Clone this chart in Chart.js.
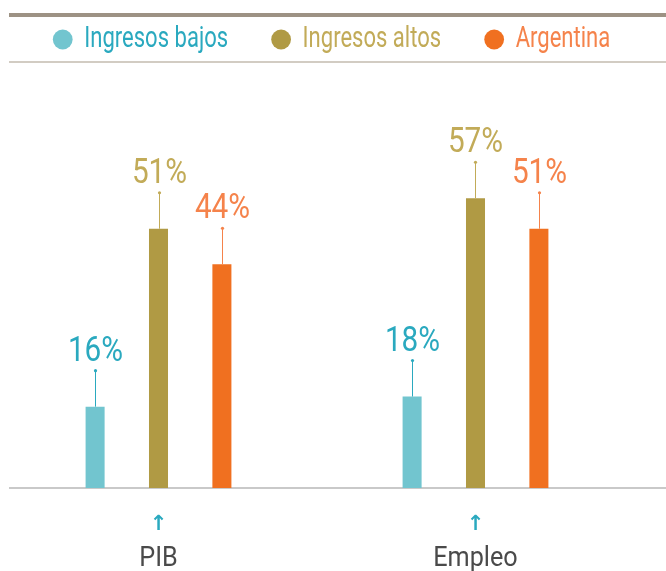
<!DOCTYPE html>
<html><head><meta charset="utf-8">
<script src="https://cdn.jsdelivr.net/npm/chart.js@4/dist/chart.umd.min.js"></script>
<style>html,body{margin:0;padding:0;background:#fff}#wrap{width:666px;height:571px;position:relative}</style>
</head><body><div id="wrap"><canvas id="c"></canvas></div>
<script>
const categories = ['PIB', 'Empleo'];
const seriesNames = ['Ingresos bajos', 'Ingresos altos', 'Argentina'];
const ingresosBajos = [16, 18];
const ingresosAltos = [51, 57];
const argentina = [44, 51];
const yMax = 84;

const barColors = ['#72c5cf', '#b09a44', '#f07020'];
const textColors = ['#2aa9bf', '#c2ab58', '#f5834b'];
const FONT = "Roboto, sans-serif";

// condensed rendering of Roboto text (reference uses a condensed face)
const condense = { 29: 0.76, 28: 0.9, 35: 0.85 };
function factorOf(ctx) {
  const m = /(\d+(?:\.\d+)?)px\s+Roboto/.exec(ctx.font);
  if (!m) return 1;
  return condense[Math.round(parseFloat(m[1]))] || 1;
}
const P = CanvasRenderingContext2D.prototype;
const origFill = P.fillText, origMeasure = P.measureText;
P.fillText = function (t, x, y, maxW) {
  const f = factorOf(this);
  if (f === 1) return origFill.apply(this, arguments);
  this.save();
  this.translate(x, y);
  this.scale(f, 1);
  if (maxW !== undefined) origFill.call(this, t, 0, 0, maxW / f);
  else origFill.call(this, t, 0, 0);
  this.restore();
};
P.measureText = function (t) {
  const m = origMeasure.call(this, t);
  const f = factorOf(this);
  if (f === 1) return m;
  return {
    width: m.width * f,
    actualBoundingBoxAscent: m.actualBoundingBoxAscent,
    actualBoundingBoxDescent: m.actualBoundingBoxDescent,
    actualBoundingBoxLeft: m.actualBoundingBoxLeft * f,
    actualBoundingBoxRight: m.actualBoundingBoxRight * f
  };
};

const decor = {
  id: 'decor',
  beforeDraw(chart) {
    const ctx = chart.ctx;
    ctx.save();
    ctx.fillStyle = '#9d9284';
    ctx.fillRect(9, 13, 657, 4);
    ctx.fillStyle = '#d2ccc3';
    ctx.fillRect(9, 61, 657, 2);
    ctx.restore();
  },
  beforeDatasetsDraw(chart) {
    const ctx = chart.ctx;
    const y0 = chart.scales.y.getPixelForValue(0);
    ctx.save();
    ctx.fillStyle = '#c9c9c9';
    ctx.fillRect(9, Math.round(y0) - 1, 657, 2);
    ctx.restore();
  },
  afterDatasetsDraw(chart) {
    const ctx = chart.ctx;
    ctx.save();
    chart.data.datasets.forEach((ds, i) => {
      const meta = chart.getDatasetMeta(i);
      meta.data.forEach((bar, j) => {
        const x = Math.round(bar.x) + 0.5;
        const top = bar.y;
        const lt = top - 36;
        ctx.strokeStyle = textColors[i];
        ctx.lineWidth = 1;
        ctx.beginPath();
        ctx.moveTo(x, top);
        ctx.lineTo(x, lt);
        ctx.stroke();
        ctx.fillStyle = textColors[i];
        ctx.beginPath();
        ctx.arc(x, lt, 1.6, 0, Math.PI * 2);
        ctx.fill();
        ctx.font = '35px ' + FONT;
        ctx.textAlign = 'center';
        ctx.textBaseline = 'alphabetic';
        ctx.fillText(ds.data[j] + '%', x, lt - 10);
      });
    });
    ctx.restore();
  }
};

new Chart(document.getElementById('c'), {
  type: 'bar',
  data: {
    labels: categories,
    datasets: [
      { label: seriesNames[0], data: ingresosBajos, backgroundColor: barColors[0] },
      { label: seriesNames[1], data: ingresosAltos, backgroundColor: barColors[1] },
      { label: seriesNames[2], data: argentina, backgroundColor: barColors[2] }
    ]
  },
  options: {
    responsive: true,
    maintainAspectRatio: false,
    animation: false,
    events: [],
    categoryPercentage: 0.6,
    barPercentage: 0.3,
    layout: { padding: { top: -21, left: 0, right: 0, bottom: 0 } },
    plugins: {
      tooltip: { enabled: false },
      legend: {
        position: 'top',
        maxHeight: 82,
        labels: {
          usePointStyle: true,
          boxWidth: 14,
          boxHeight: 14,
          padding: 46,
          font: { size: 29, family: FONT },
          generateLabels(chart) {
            return chart.data.datasets.map((ds, i) => ({
              text: ds.label,
              fillStyle: barColors[i],
              strokeStyle: barColors[i],
              lineWidth: 0,
              pointStyle: 'circle',
              fontColor: textColors[i],
              hidden: false,
              datasetIndex: i
            }));
          }
        }
      }
    },
    scales: {
      x: {
        weight: 0,
        grid: { display: false },
        border: { display: false },
        ticks: {
          callback: () => '↑',
          color: '#2aa9bf',
          font: { size: 21, weight: 'bold', family: "'DejaVu Sans', sans-serif" },
          padding: 16
        },
        afterFit(s) { s.height = 44; }
      },
      x2: {
        type: 'category',
        labels: categories,
        offset: true,
        weight: 1,
        position: 'bottom',
        grid: { display: false },
        border: { display: false },
        ticks: { color: '#4a4a4a', font: { size: 28, family: FONT }, padding: 2 },
        afterFit(s) { s.height = 39; }
      },
      y: {
        position: 'right',
        min: 0,
        max: yMax,
        grid: { display: false },
        border: { display: false },
        ticks: { display: false },
        afterFit(s) { s.width = 32; }
      }
    }
  },
  plugins: [decor]
});
</script></body></html>
